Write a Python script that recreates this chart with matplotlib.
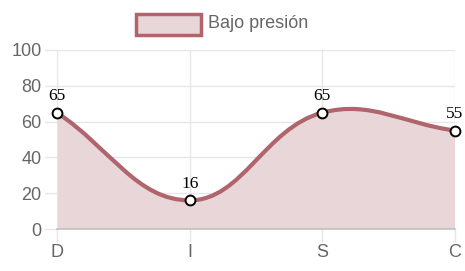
import numpy as np
import matplotlib
matplotlib.use("Agg")
import matplotlib.pyplot as plt
from matplotlib.path import Path
from matplotlib.patches import PathPatch, Rectangle

# data
categories = ["D", "I", "S", "C"]
values = [65, 16, 65, 55]
series_name = "Bajo presión"
y_ticks = [0, 20, 40, 60, 80, 100]

line_color = "#b0646c"
fill_color = "#e8d6d8"
text_grey = "#666666"

plt.rcParams["font.family"] = ["Liberation Sans", "DejaVu Sans"]

W, H = 465, 271
fig = plt.figure(figsize=(W / 100, H / 100), dpi=100)
left, right, top, bottom = 57, 455, 50, 229
ax = fig.add_axes([left / W, 1 - bottom / H, (right - left) / W, (bottom - top) / H])
ax.set_xlim(0, len(categories) - 1)
ax.set_ylim(0, 100)

# Chart.js style bezier (tension 0.4), computed in pixel space
sx = (right - left) / (len(categories) - 1)
sy = (bottom - top) / 100.0
xs = np.arange(len(categories), dtype=float)
ys = np.array(values, dtype=float)
t = 0.4
ctrl_prev, ctrl_next = [], []
n = len(xs)
for i in range(n):
    p0 = np.array([xs[max(i - 1, 0)] * sx, ys[max(i - 1, 0)] * sy])
    p1 = np.array([xs[i] * sx, ys[i] * sy])
    p2 = np.array([xs[min(i + 1, n - 1)] * sx, ys[min(i + 1, n - 1)] * sy])
    d01 = np.hypot(*(p1 - p0))
    d12 = np.hypot(*(p2 - p1))
    tot = d01 + d12
    s01 = d01 / tot if tot else 0
    s12 = d12 / tot if tot else 0
    cp = p1 - t * s01 * (p2 - p0)
    cn = p1 + t * s12 * (p2 - p0)
    cp[1] = min(max(cp[1], 0), 100 * sy)
    cn[1] = min(max(cn[1], 0), 100 * sy)
    ctrl_prev.append((cp[0] / sx, cp[1] / sy))
    ctrl_next.append((cn[0] / sx, cn[1] / sy))

verts = [(xs[0], ys[0])]
codes = [Path.MOVETO]
for i in range(n - 1):
    verts += [ctrl_next[i], ctrl_prev[i + 1], (xs[i + 1], ys[i + 1])]
    codes += [Path.CURVE4] * 3

fill_verts = verts + [(xs[-1], 0), (xs[0], 0), (xs[0], ys[0])]
fill_codes = codes + [Path.LINETO, Path.LINETO, Path.CLOSEPOLY]
ax.add_patch(PathPatch(Path(fill_verts, fill_codes), facecolor=fill_color, edgecolor="none", zorder=1))
ax.add_patch(PathPatch(Path(verts, codes), facecolor="none", edgecolor=line_color, lw=3, zorder=3,
                       capstyle="round", joinstyle="round"))

ax.scatter(xs, ys, s=50, facecolor="white", edgecolor="black", linewidth=1.4, zorder=5, clip_on=False)
for x, v in zip(xs, ys):
    ax.annotate(str(int(v)), (x, v), xytext=(0, 6), textcoords="offset points", ha="center", va="bottom",
                fontsize=12.5, family="Liberation Serif", color="black")

# grid and axes
ax.set_xticks(xs)
ax.set_xticklabels(categories)
ax.set_yticks(y_ticks)
ax.grid(True, color="#e6e6e6", lw=1, zorder=0)
ax.tick_params(axis="both", colors="#e6e6e6", length=9, width=1, labelcolor=text_grey, labelsize=13, pad=2)
for s in ["top", "right"]:
    ax.spines[s].set_visible(False)
ax.spines["left"].set_color("#e6e6e6")
ax.spines["bottom"].set_color("#c0c0c0")
ax.spines["bottom"].set_linewidth(1.2)
ax.set_axisbelow(True)

# legend
fig.patches.append(Rectangle((136 / W, 1 - 35 / H), 65 / W, 21 / H, transform=fig.transFigure,
                             facecolor=fill_color, edgecolor=line_color, lw=2.5))
fig.text(208 / W, 1 - 23 / H, series_name, ha="left", va="center", fontsize=13, color=text_grey)

fig.savefig("out.png", dpi=100)
